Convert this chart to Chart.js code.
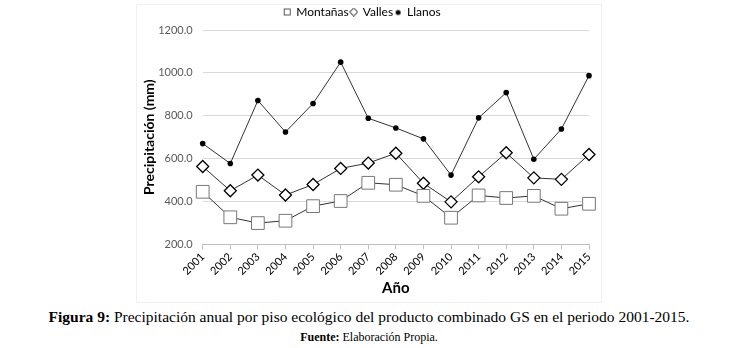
<!DOCTYPE html>
<html>
<head>
<meta charset="utf-8">
<script src="https://cdn.jsdelivr.net/npm/chart.js@4"></script>
<style>
  body { margin: 0; background: #fff; width: 738px; height: 348px; position: relative; overflow: hidden; }
  #box { position: absolute; left: 136px; top: 4px; width: 466px; height: 299px; border: 1px solid #f0f0f0; box-sizing: border-box; }
  #box canvas { position: absolute; left: -1px; top: -1px; }
  .cap { position: absolute; left: 0; width: 738px; text-align: center; font-family: "Liberation Serif", "Times New Roman", serif; color: #000; white-space: nowrap; }
  #cap1 { top: 308px; font-size: 15.5px; }
  #cap2 { top: 330px; font-size: 12px; }
</style>
</head>
<body>
<div id="box"><canvas id="myChart" width="466" height="299"></canvas></div>
<div class="cap" id="cap1"><b>Figura 9:</b> Precipitación anual por piso ecológico del producto combinado GS en el periodo 2001-2015.</div>
<div class="cap" id="cap2"><b>Fuente:</b> Elaboración Propia.</div>
<script>
const years = ['2001', '2002', '2003', '2004', '2005', '2006', '2007', '2008', '2009', '2010', '2011', '2012', '2013', '2014', '2015'];
const montanas = [445, 326, 299, 310, 378, 402, 487, 478, 426, 324, 428, 416, 426, 366, 389];
const valles = [563, 450, 523, 430, 479, 554, 579, 625, 485, 398, 515, 627, 510, 503, 619];
const llanos = [670, 577, 871, 724, 857, 1050, 788, 743, 692, 523, 790, 908, 597, 738, 987];
const yTicks = [200, 400, 600, 800, 1000, 1200];

// small marker images for the legend
function legendMark(kind) {
	const c = document.createElement('canvas');
	c.width = 9; c.height = 9;
	const g = c.getContext('2d');
	g.lineWidth = 1;
	if (kind === 'rect') {
		g.fillStyle = '#fff'; g.strokeStyle = '#555';
		g.fillRect(1, 1, 7, 7); g.strokeRect(1.5, 1.5, 6, 6);
	} else if (kind === 'rectRot') {
		g.fillStyle = '#fff'; g.strokeStyle = '#000';
		g.beginPath(); g.moveTo(4.5, 0.5); g.lineTo(8.5, 4.5); g.lineTo(4.5, 8.5); g.lineTo(0.5, 4.5); g.closePath();
		g.fill(); g.stroke();
	} else {
		g.fillStyle = '#000';
		g.beginPath(); g.arc(4.5, 5, 2.5, 0, Math.PI * 2); g.fill();
	}
	return c;
}
const marks = [legendMark('rect'), legendMark('rectRot'), legendMark('circle')];

// keep the legend box a fixed height so the plot top lands where it should
const legendHeight = {
	id: 'legendHeight',
	beforeInit(chart) {
		const fit = chart.legend.fit;
		chart.legend.fit = function () {
			fit.bind(chart.legend)();
			this.height = 26;
		};
	}
};

const ctx = document.getElementById('myChart').getContext('2d');
const myChart = new Chart(ctx, {
	type: 'line',
	data: {
		labels: years,
		datasets: [{
			label: 'Montañas',
			data: montanas,
			borderColor: '#333',
			borderWidth: 1,
			pointStyle: 'rect',
			pointRadius: 9,
			pointBackgroundColor: '#fff',
			pointBorderColor: '#777',
			pointBorderWidth: 1
		}, {
			label: 'Valles',
			data: valles,
			borderColor: '#333',
			borderWidth: 1,
			pointStyle: 'rectRot',
			pointRadius: 6,
			pointBackgroundColor: '#fff',
			pointBorderColor: '#000',
			pointBorderWidth: 1.3
		}, {
			label: 'Llanos',
			data: llanos,
			borderColor: '#333',
			borderWidth: 1,
			pointStyle: 'circle',
			pointRadius: 2.8,
			pointBackgroundColor: '#000',
			pointBorderColor: '#000',
			pointBorderWidth: 0
		}]
	},
	plugins: [legendHeight],
	options: {
		responsive: false,
		animation: false,
		layout: { padding: { left: 0, right: 13, top: 0, bottom: 0 } },
		plugins: {
			tooltip: { enabled: false },
			legend: {
				position: 'top',
				labels: {
					usePointStyle: true,
					boxWidth: 6,
					boxHeight: 9,
					padding: 2,
					color: '#000',
					font: { family: 'Lato', size: 12 },
					generateLabels: chart => {
						const items = Chart.defaults.plugins.legend.labels.generateLabels(chart);
						items.forEach((it, i) => { it.pointStyle = marks[i]; });
						return items;
					}
				}
			}
		},
		scales: {
			x: {
				offset: false,
				grid: { display: true, drawOnChartArea: false, drawTicks: true, tickLength: 5, color: '#bfbfbf' },
				border: { color: '#bfbfbf' },
				ticks: { minRotation: 45, maxRotation: 45, padding: 1, color: '#000', font: { family: 'Lato', size: 11 } },
				title: { display: true, text: 'Año', color: '#000', font: { family: 'Lato', size: 15, weight: 'bold' }, padding: { top: 2, bottom: 6 } },
				afterFit: scale => { scale.height = 58.7; }
			},
			y: {
				min: 200,
				max: 1200,
				afterBuildTicks: scale => { scale.ticks = yTicks.map(v => ({ value: v })); },
				grid: { color: '#d9d9d9', drawTicks: false },
				border: { display: false },
				ticks: { padding: 10, color: '#595959', font: { family: 'Lato', size: 11 }, callback: v => v.toFixed(1) },
				title: { display: true, text: 'Precipitación (mm)', color: '#000', font: { family: 'Lato', size: 14, weight: 'bold' }, padding: { top: 5, bottom: 0 } },
				afterFit: scale => { scale.width = 66.7; }
			}
		}
	}
});
</script>
</body>
</html>
